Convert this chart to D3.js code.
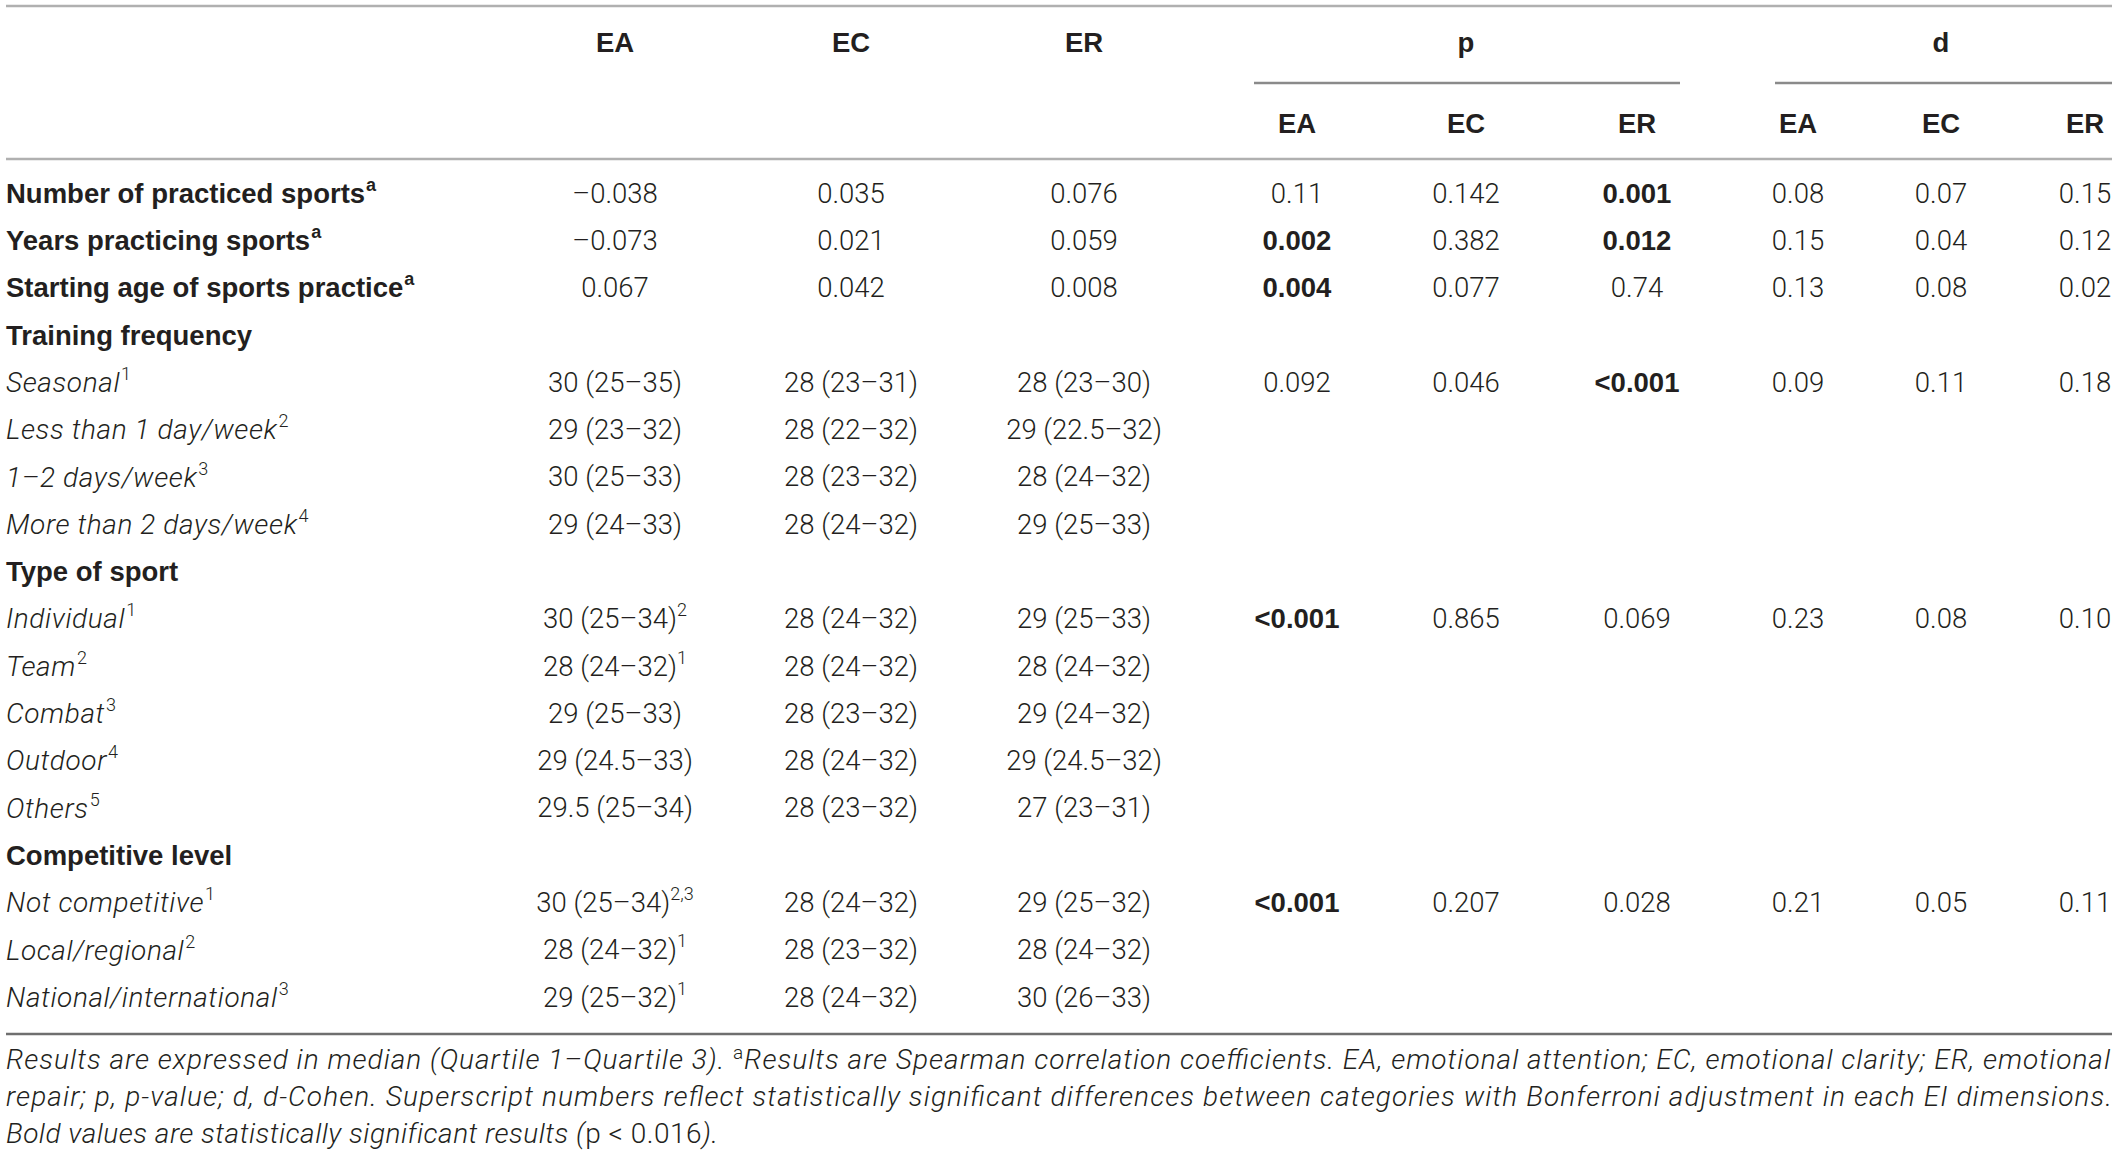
<!DOCTYPE html>
<html>
<head>
<meta charset="utf-8">
<script src="https://cdn.jsdelivr.net/npm/d3@7"></script>
<style>
  body { margin: 0; background: #fff; }
  svg text { font-family: Roboto, "Liberation Sans", sans-serif; fill: #231f20; }
  svg text.bold { font-family: "Liberation Sans", Arial, sans-serif; font-weight: 700; }
</style>
</head>
<body>
<div id="table"></div>
<script>
  // Row labels and their style: 'b' bold variable, 'h' bold group heading, 'i' italic category
  const rowLabels = [
    'Number of practiced sports', 'Years practicing sports', 'Starting age of sports practice',
    'Training frequency', 'Seasonal', 'Less than 1 day/week', '1–2 days/week', 'More than 2 days/week',
    'Type of sport', 'Individual', 'Team', 'Combat', 'Outdoor', 'Others',
    'Competitive level', 'Not competitive', 'Local/regional', 'National/international'
  ];
  const rowKinds = ['b', 'b', 'b', 'h', 'i', 'i', 'i', 'i', 'h', 'i', 'i', 'i', 'i', 'i', 'h', 'i', 'i', 'i'];
  const labelSup = ['a', 'a', 'a', '', '1', '2', '3', '4', '', '1', '2', '3', '4', '5', '', '1', '2', '3'];

  const eaValues = ['–0.038', '–0.073', '0.067', '', '30 (25–35)', '29 (23–32)', '30 (25–33)', '29 (24–33)',
    '', '30 (25–34)', '28 (24–32)', '29 (25–33)', '29 (24.5–33)', '29.5 (25–34)',
    '', '30 (25–34)', '28 (24–32)', '29 (25–32)'];
  const eaSup = ['', '', '', '', '', '', '', '', '', '2', '1', '', '', '', '', '2,3', '1', '1'];
  const ecValues = ['0.035', '0.021', '0.042', '', '28 (23–31)', '28 (22–32)', '28 (23–32)', '28 (24–32)',
    '', '28 (24–32)', '28 (24–32)', '28 (23–32)', '28 (24–32)', '28 (23–32)',
    '', '28 (24–32)', '28 (23–32)', '28 (24–32)'];
  const erValues = ['0.076', '0.059', '0.008', '', '28 (23–30)', '29 (22.5–32)', '28 (24–32)', '29 (25–33)',
    '', '29 (25–33)', '28 (24–32)', '29 (24–32)', '29 (24.5–32)', '27 (23–31)',
    '', '29 (25–32)', '28 (24–32)', '30 (26–33)'];

  // p-values and d-Cohen, one entry per row ('' = empty cell)
  const pEA = ['0.11', '0.002', '0.004', '', '0.092', '', '', '', '', '<0.001', '', '', '', '', '', '<0.001', '', ''];
  const pEC = ['0.142', '0.382', '0.077', '', '0.046', '', '', '', '', '0.865', '', '', '', '', '', '0.207', '', ''];
  const pER = ['0.001', '0.012', '0.74', '', '<0.001', '', '', '', '', '0.069', '', '', '', '', '', '0.028', '', ''];
  const dEA = ['0.08', '0.15', '0.13', '', '0.09', '', '', '', '', '0.23', '', '', '', '', '', '0.21', '', ''];
  const dEC = ['0.07', '0.04', '0.08', '', '0.11', '', '', '', '', '0.08', '', '', '', '', '', '0.05', '', ''];
  const dER = ['0.15', '0.12', '0.02', '', '0.18', '', '', '', '', '0.10', '', '', '', '', '', '0.11', '', ''];
  // statistically significant cells (bold)
  const boldP = {
    pEA: ['0.002', '0.004', '<0.001'],
    pER: ['0.001', '0.012', '<0.001']
  };

  const topHeaders = ['EA', 'EC', 'ER', 'p', 'd'];
  const subHeaders = ['EA', 'EC', 'ER', 'EA', 'EC', 'ER'];
  const footnote = [
    'Results are expressed in median (Quartile 1–Quartile 3). ',
    'Results are Spearman correlation coefficients. EA, emotional attention; EC, emotional clarity; ER, emotional',
    'repair; p, p-value; d, d-Cohen. Superscript numbers reflect statistically significant differences between categories with Bonferroni adjustment in each EI dimensions.',
    'Bold values are statistically significant results ('
  ];

  const W = 2118, H = 1159;
  const fs = 27.5, supFs = 18;

  const svg = d3.select('#table').append('svg')
    .attr('width', W).attr('height', H);

  // column centres
  const colKeys = ['ea', 'ec', 'er', 'pEA', 'pEC', 'pER', 'dEA', 'dEC', 'dER'];
  const x = d3.scaleOrdinal()
    .domain(colKeys)
    .range([615, 851, 1084, 1297, 1466, 1637, 1798, 1941, 2085]);

  const y = d3.scalePoint()
    .domain(d3.range(rowLabels.length))
    .range([193, 997]);

  // rules
  const rule = (x1, x2, yy, color) => svg.append('line')
    .attr('x1', x1).attr('x2', x2).attr('y1', yy).attr('y2', yy)
    .attr('stroke', color).attr('stroke-width', 2.5);
  rule(6, 2112, 6, '#b0b0b0');
  rule(1254, 1680, 83, '#8a8a8a');
  rule(1775, 2112, 83, '#8a8a8a');
  rule(6, 2112, 159, '#b0b0b0');
  rule(6, 2112, 1034, '#6f6f6f');

  // header row 1
  const topX = [x('ea'), x('ec'), x('er'), x('pEC'), x('dEC')];
  svg.selectAll('.top-head')
    .data(topHeaders)
    .enter()
    .append('text')
    .attr('class', 'top-head bold')
    .attr('x', (d, i) => topX[i])
    .attr('y', 42)
    .attr('dy', '0.35em')
    .attr('text-anchor', 'middle')
    .style('font-size', fs + 'px')
    .text(d => d);

  // header row 2
  svg.selectAll('.sub-head')
    .data(subHeaders)
    .enter()
    .append('text')
    .attr('class', 'sub-head bold')
    .attr('x', (d, i) => x(colKeys[i + 3]))
    .attr('y', 123)
    .attr('dy', '0.35em')
    .attr('text-anchor', 'middle')
    .style('font-size', fs + 'px')
    .text(d => d);

  // row labels
  const labels = svg.selectAll('.row-label')
    .data(rowLabels)
    .enter()
    .append('text')
    .attr('class', (d, i) => rowKinds[i] === 'i' ? 'row-label' : 'row-label bold')
    .attr('x', 6)
    .attr('y', (d, i) => y(i))
    .attr('dy', '0.35em')
    .style('font-size', (d, i) => rowKinds[i] === 'i' ? '28px' : fs + 'px')
    .style('letter-spacing', (d, i) => rowKinds[i] === 'i' ? '0.6px' : null)
    .style('font-weight', (d, i) => rowKinds[i] === 'i' ? 300 : null)
    .style('font-style', (d, i) => rowKinds[i] === 'i' ? 'italic' : 'normal');
  labels.append('tspan').text(d => d);
  labels.append('tspan')
    .attr('dy', -12)
    .attr('dx', 1)
    .style('font-size', supFs + 'px')
    .style('font-style', 'normal')
    .text((d, i) => labelSup[i]);

  // cell helper
  function column(key, values, sups, boldList) {
    const cells = svg.selectAll('.cell-' + key)
      .data(values)
      .enter()
      .append('text')
      .attr('class', d => boldList && boldList.includes(d) ? 'cell-' + key + ' bold' : 'cell-' + key)
      .attr('x', x(key))
      .attr('y', (d, i) => y(i))
      .attr('dy', '0.35em')
      .attr('text-anchor', 'middle')
      .style('font-size', fs + 'px')
      .style('font-weight', d => boldList && boldList.includes(d) ? null : 300);
    cells.append('tspan').text(d => d);
    if (sups) {
      cells.append('tspan')
        .attr('dy', -12)
        .style('font-size', supFs + 'px')
        .text((d, i) => sups[i]);
    }
  }

  column('ea', eaValues, eaSup);
  column('ec', ecValues);
  column('er', erValues);
  column('pEA', pEA, null, boldP.pEA);
  column('pEC', pEC);
  column('pER', pER, null, boldP.pER);
  column('dEA', dEA);
  column('dEC', dEC);
  column('dER', dER);

  // footnote
  const foot = svg.append('g')
    .style('font-size', '28px')
    .style('font-weight', 300)
    .style('font-style', 'italic');

  const f1 = foot.append('text').attr('x', 6).attr('y', 1059).attr('dy', '0.35em')
    .attr('textLength', 2104).attr('lengthAdjust', 'spacing');
  f1.append('tspan').text(footnote[0]);
  f1.append('tspan').attr('dy', -10).style('font-size', '19px').style('font-style', 'normal').text('a');
  f1.append('tspan').attr('dy', 10).text(footnote[1]);

  foot.append('text').attr('x', 6).attr('y', 1096).attr('dy', '0.35em')
    .attr('textLength', 2106).attr('lengthAdjust', 'spacing')
    .text(footnote[2]);

  const f3 = foot.append('text').attr('x', 6).attr('y', 1133).attr('dy', '0.35em')
    .style('letter-spacing', '0.5px');
  f3.append('tspan').text(footnote[3]);
  f3.append('tspan').style('font-style', 'normal').text('p < 0.016');
  f3.append('tspan').text(').');
</script>
</body>
</html>
